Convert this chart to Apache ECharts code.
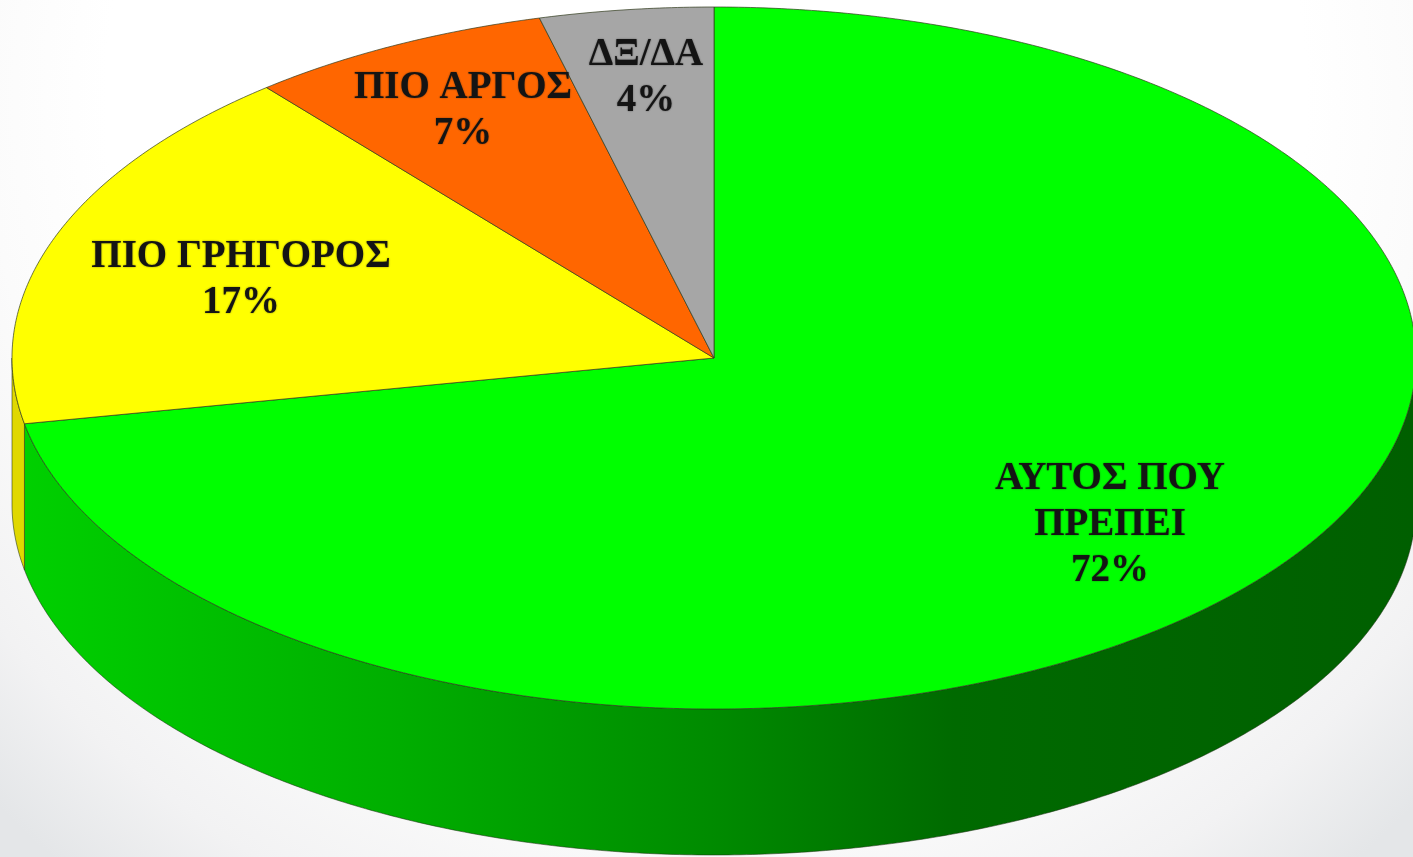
<!DOCTYPE html>
<html>
<head>
<meta charset="utf-8">
<title>Pie</title>
<style>
  html, body { margin: 0; padding: 0; background: #fff; }
  #chart { width: 1413px; height: 857px; }
</style>
<script src="https://cdn.jsdelivr.net/npm/echarts@6/dist/echarts.min.js"></script>
</head>
<body>
<div id="chart"></div>
<script>
const categories = ['ΑΥΤΟΣ ΠΟΥ\nΠΡΕΠΕΙ', 'ΠΙΟ ΓΡΗΓΟΡΟΣ', 'ΠΙΟ ΑΡΓΟΣ', 'ΔΞ/ΔΑ'];
const values = [72, 17, 7, 4];
const topColors = ['#00ff00', '#ffff00', '#ff6600', '#a6a6a6'];
const wallColors = ['green', '#e0d800', '#c04c00', '#7c7c7c'];

// pie geometry, px
const cx = 714, cy = 358, rx = 702, ry = 351, depth = 146;
// label centers, px
const labelPos = [[1110, 525], [241, 280], [463, 111], [646, 78]];

const total = values.reduce((a, b) => a + b, 0);
const starts = [];
values.reduce((acc, v, i) => { starts[i] = acc; return acc + v; }, 0);

// deg runs clockwise from 12 o'clock
function pt(deg, dy) {
  const a = deg * Math.PI / 180;
  return [cx + rx * Math.sin(a), cy - ry * Math.cos(a) + (dy || 0)];
}

function arc(from, to, dy) {
  const pts = [];
  const n = Math.max(2, Math.ceil(Math.abs(to - from) * 2));
  for (let i = 0; i <= n; i++) pts.push(pt(from + (to - from) * i / n, dy));
  return pts;
}

const wallGradient = new echarts.graphic.LinearGradient(25, 0, 1413, 0, [
  { offset: 0, color: '#00d000' },
  { offset: 0.27, color: '#00ae00' },
  { offset: 0.5, color: '#008a00' },
  { offset: 0.67, color: '#006a00' },
  { offset: 1, color: '#005f00' }
], true);

function sliceRange(i) {
  const s = starts[i] / total * 360;
  return [s, s + values[i] / total * 360];
}

function renderWall(params) {
  const i = params.dataIndex;
  const r = sliceRange(i);
  const from = Math.max(r[0], 90), to = Math.min(r[1], 270);
  if (from >= to) return null;
  const fill = wallColors[i] === 'green' ? wallGradient : wallColors[i];
  return {
    type: 'polygon',
    shape: { points: arc(from, to, 0).concat(arc(to, from, depth)) },
    style: { fill: fill, stroke: 'rgba(30,50,20,0.55)', lineWidth: 1 }
  };
}

function renderTop(params) {
  const i = params.dataIndex;
  const r = sliceRange(i);
  return {
    type: 'polygon',
    shape: { points: [[cx, cy]].concat(arc(r[0], r[1], 0)) },
    style: { fill: topColors[i], stroke: 'rgba(50,60,30,0.7)', lineWidth: 1 }
  };
}

function renderLabel(params, api) {
  const i = params.dataIndex;
  return {
    type: 'text',
    style: {
      x: labelPos[i][0],
      y: labelPos[i][1],
      text: categories[i] + '\n' + api.value(0) + '%',
      fill: '#141414',
      font: 'bold 39px "Liberation Serif", serif',
      lineHeight: 46,
      align: 'center',
      verticalAlign: 'middle',
      textShadowColor: 'rgba(20,20,20,0.5)',
      textShadowBlur: 2
    }
  };
}

const chart = echarts.init(document.getElementById('chart'));
chart.setOption({
  animation: false,
  backgroundColor: new echarts.graphic.RadialGradient(706, 100, 1000, [
    { offset: 0.6, color: '#ffffff' },
    { offset: 0.72, color: '#fbfbfb' },
    { offset: 0.88, color: '#f2f2f3' },
    { offset: 1, color: '#e4e6e8' }
  ], true),
  series: [
    { type: 'custom', coordinateSystem: 'none', renderItem: renderWall, data: values, z: 1, silent: true },
    { type: 'custom', coordinateSystem: 'none', renderItem: renderTop, data: values, z: 2, silent: true },
    { type: 'custom', coordinateSystem: 'none', renderItem: renderLabel, data: values, z: 3, silent: true }
  ]
});
</script>
</body>
</html>
